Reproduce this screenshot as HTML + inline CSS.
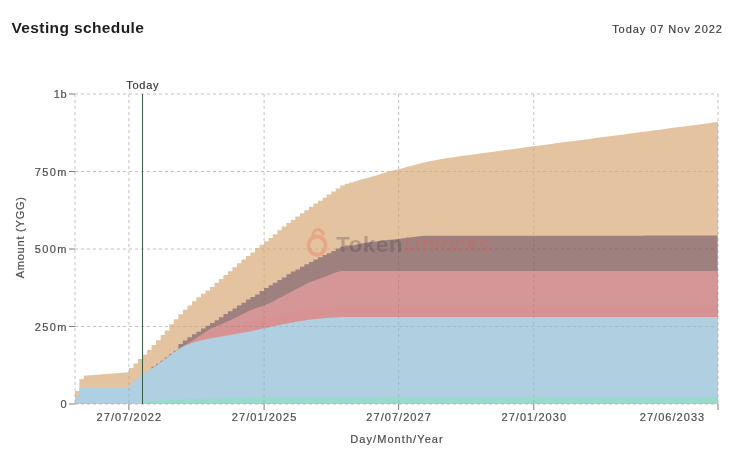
<!DOCTYPE html>
<html><head><meta charset="utf-8"><style>
html,body{margin:0;padding:0;background:#fff;}
body{width:731px;height:458px;overflow:hidden;position:relative;font-family:"Liberation Sans",sans-serif;}
svg{position:absolute;left:0;top:0;will-change:transform;}
</style></head><body>
<svg width="731" height="458" viewBox="0 0 731 458" font-family="Liberation Sans, sans-serif">
<text x="11.5" y="33.1" font-size="15.5" font-weight="bold" fill="#1e1e1e" letter-spacing="0.38">Vesting schedule</text>
<text x="722.8" y="33.1" font-size="11" fill="#3a3a3a" stroke="#3a3a3a" stroke-width="0.15" text-anchor="end" letter-spacing="0.93">Today 07 Nov 2022</text>
<defs><clipPath id="ac"><path d="M75,391 L79.4,391 L79.4,379.3 L83.8,379.3 L83.8,375.7 L128.9,372.3 L128.92,372.3 L128.92,368 L133.49,368 L133.49,368 L133.49,363.4 L138.07,363.4 L138.07,363.4 L138.07,358.9 L142.51,358.9 L142.51,358.9 L142.51,354.7 L147.08,354.7 L147.08,354.7 L147.08,349.9 L151.52,349.9 L151.52,349.9 L151.52,344.9 L156.1,344.9 L156.1,344.9 L156.1,340.2 L160.67,340.2 L160.67,340.2 L160.67,335 L164.81,335 L164.81,335 L164.81,330.4 L169.39,330.4 L169.39,330.4 L169.39,324.3 L173.82,324.3 L173.82,324.3 L173.82,319.2 L178.4,319.2 L178.4,319.2 L178.4,314.3 L182.83,314.3 L182.83,314.3 L182.83,309.7 L187.41,309.7 L187.41,309.7 L187.41,305.5 L191.99,305.5 L191.99,305.5 L191.99,301.3 L196.42,301.3 L196.42,301.3 L196.42,297.2 L201,297.2 L201,297.2 L201,293.7 L205.43,293.7 L205.43,293.7 L205.43,290.5 L210.01,290.5 L210.01,290.5 L210.01,286.9 L214.59,286.9 L214.59,286.9 L214.59,283 L218.87,283 L218.87,283 L218.87,279 L223.45,279 L223.45,279 L223.45,275.1 L227.88,275.1 L227.88,275.1 L227.88,271.2 L232.46,271.2 L232.46,271.2 L232.46,267.2 L236.89,267.2 L236.89,267.2 L236.89,263.3 L241.47,263.3 L241.47,263.3 L241.47,259.6 L246.05,259.6 L246.05,259.6 L246.05,256 L250.48,256 L250.48,256 L250.48,252.5 L255.06,252.5 L255.06,252.5 L255.06,248.1 L259.5,248.1 L259.5,248.1 L259.5,244.7 L264.07,244.7 L264.07,244.7 L264.07,241.2 L268.65,241.2 L268.65,241.2 L268.65,238.1 L272.79,238.1 L272.79,238.1 L272.79,234.2 L277.37,234.2 L277.37,234.2 L277.37,230.3 L281.8,230.3 L281.8,230.3 L281.8,226.4 L286.38,226.4 L286.38,226.4 L286.38,223 L290.81,223 L290.81,223 L290.81,219.9 L295.39,219.9 L295.39,219.9 L295.39,216.4 L299.97,216.4 L299.97,216.4 L299.97,213.3 L304.4,213.3 L304.4,213.3 L304.4,210.3 L308.98,210.3 L308.98,210.3 L308.98,206.8 L313.41,206.8 L313.41,206.8 L313.41,203.5 L317.99,203.5 L317.99,203.5 L317.99,200.8 L322.57,200.8 L322.57,200.8 L322.57,197.7 L326.71,197.7 L326.71,197.7 L326.71,194.6 L331.28,194.6 L331.28,194.6 L331.28,191.6 L335.72,191.6 L335.72,191.6 L335.72,188.5 L340.29,188.5 L340.29,188.5 L340.29,185.5 L344.73,185.5 L344.73,185.5 L344.73,183.7 L349.31,183.7 L349.31,183.7 L349.31,182.4 L353.5,182.4 L353.5,181.76 L355.5,181.21 L357.5,180.66 L359.5,180.11 L361.5,179.56 L363.5,179 L365.5,178.45 L367.5,177.89 L369.5,177.33 L371.5,176.77 L373.5,176.22 L375.5,175.66 L377.5,175.1 L379.5,174.53 L381.5,173.82 L383.5,173.11 L385.5,172.41 L387.5,171.7 L389.5,171.26 L391.5,170.82 L393.5,170.39 L395.5,169.95 L397.5,169.51 L399.5,168.99 L401.5,168.45 L403.5,167.91 L405.5,167.36 L407.5,166.82 L409.5,166.28 L411.5,165.74 L413.5,165.23 L415.5,164.73 L417.5,164.23 L419.5,163.74 L421.5,163.24 L423.5,162.74 L425.5,162.25 L427.5,161.75 L429.5,161.32 L431.5,160.95 L433.5,160.58 L435.5,160.21 L437.5,159.84 L439.5,159.47 L441.5,159.1 L443.5,158.73 L445.5,158.36 L447.5,157.99 L449.5,157.7 L451.5,157.42 L453.5,157.15 L455.5,156.88 L457.5,156.61 L459.5,156.34 L461.5,156.06 L463.5,155.79 L465.5,155.52 L467.5,155.25 L469.5,154.98 L471.5,154.7 L473.5,154.43 L475.5,154.16 L477.5,153.89 L479.5,153.62 L481.5,153.34 L483.5,153.07 L485.5,152.8 L487.5,152.53 L489.5,152.26 L491.5,151.98 L493.5,151.71 L495.5,151.44 L497.5,151.17 L499.5,150.9 L501.5,150.62 L503.5,150.35 L505.5,150.08 L507.5,149.81 L509.5,149.54 L511.5,149.26 L513.5,148.99 L515.5,148.72 L517.5,148.45 L519.5,148.18 L521.5,147.9 L523.5,147.63 L525.5,147.36 L527.5,147.09 L529.5,146.82 L531.5,146.54 L533.5,146.27 L535.5,146.01 L537.5,145.75 L539.5,145.48 L541.5,145.22 L543.5,144.96 L545.5,144.69 L547.5,144.43 L549.5,144.16 L551.5,143.9 L553.5,143.64 L555.5,143.37 L557.5,143.11 L559.5,142.85 L561.5,142.58 L563.5,142.32 L565.5,142.06 L567.5,141.79 L569.5,141.53 L571.5,141.26 L573.5,141 L575.5,140.74 L577.5,140.47 L579.5,140.21 L581.5,139.95 L583.5,139.68 L585.5,139.42 L587.5,139.16 L589.5,138.89 L591.5,138.63 L593.5,138.37 L595.5,138.1 L597.5,137.84 L599.5,137.57 L601.5,137.31 L603.5,137.05 L605.5,136.78 L607.5,136.52 L609.5,136.26 L611.5,135.99 L613.5,135.73 L615.5,135.47 L617.5,135.2 L619.5,134.94 L621.5,134.67 L623.5,134.41 L625.5,134.15 L627.5,133.88 L629.5,133.62 L631.5,133.36 L633.5,133.09 L635.5,132.83 L637.5,132.57 L639.5,132.3 L641.5,132.04 L643.5,131.77 L645.5,131.51 L647.5,131.25 L649.5,130.98 L651.5,130.72 L653.5,130.46 L655.5,130.19 L657.5,129.93 L659.5,129.67 L661.5,129.4 L663.5,129.14 L665.5,128.88 L667.5,128.62 L669.5,128.36 L671.5,128.09 L673.5,127.83 L675.5,127.57 L677.5,127.31 L679.5,127.04 L681.5,126.78 L683.5,126.52 L685.5,126.26 L687.5,126 L689.5,125.73 L691.5,125.47 L693.5,125.21 L695.5,124.95 L697.5,124.69 L699.5,124.42 L701.5,124.16 L703.5,123.9 L705.5,123.64 L707.5,123.38 L709.5,123.11 L711.5,122.85 L713.5,122.59 L715.5,122.33 L717.5,122.07 L718,122 L718,404.0 L75,404.0 Z"/></clipPath></defs>
<g stroke="#c2c2c2" stroke-width="1" stroke-dasharray="3 3" fill="none"><line x1="75" y1="94" x2="718" y2="94"/><line x1="75" y1="171.5" x2="718" y2="171.5"/><line x1="75" y1="249" x2="718" y2="249"/><line x1="75" y1="326.5" x2="718" y2="326.5"/><line x1="75" y1="404" x2="718" y2="404"/><line x1="75" y1="94" x2="75" y2="404"/><line x1="128.9" y1="94" x2="128.9" y2="404"/><line x1="264.1" y1="94" x2="264.1" y2="404"/><line x1="398.6" y1="94" x2="398.6" y2="404"/><line x1="533.8" y1="94" x2="533.8" y2="404"/><line x1="718" y1="94" x2="718" y2="404"/></g>
<path d="M75,391 L79.4,391 L79.4,379.3 L83.8,379.3 L83.8,375.7 L128.9,372.3 L128.92,372.3 L128.92,368 L133.49,368 L133.49,368 L133.49,363.4 L138.07,363.4 L138.07,363.4 L138.07,358.9 L142.51,358.9 L142.51,358.9 L142.51,354.7 L147.08,354.7 L147.08,354.7 L147.08,349.9 L151.52,349.9 L151.52,349.9 L151.52,344.9 L156.1,344.9 L156.1,344.9 L156.1,340.2 L160.67,340.2 L160.67,340.2 L160.67,335 L164.81,335 L164.81,335 L164.81,330.4 L169.39,330.4 L169.39,330.4 L169.39,324.3 L173.82,324.3 L173.82,324.3 L173.82,319.2 L178.4,319.2 L178.4,319.2 L178.4,314.3 L182.83,314.3 L182.83,314.3 L182.83,309.7 L187.41,309.7 L187.41,309.7 L187.41,305.5 L191.99,305.5 L191.99,305.5 L191.99,301.3 L196.42,301.3 L196.42,301.3 L196.42,297.2 L201,297.2 L201,297.2 L201,293.7 L205.43,293.7 L205.43,293.7 L205.43,290.5 L210.01,290.5 L210.01,290.5 L210.01,286.9 L214.59,286.9 L214.59,286.9 L214.59,283 L218.87,283 L218.87,283 L218.87,279 L223.45,279 L223.45,279 L223.45,275.1 L227.88,275.1 L227.88,275.1 L227.88,271.2 L232.46,271.2 L232.46,271.2 L232.46,267.2 L236.89,267.2 L236.89,267.2 L236.89,263.3 L241.47,263.3 L241.47,263.3 L241.47,259.6 L246.05,259.6 L246.05,259.6 L246.05,256 L250.48,256 L250.48,256 L250.48,252.5 L255.06,252.5 L255.06,252.5 L255.06,248.1 L259.5,248.1 L259.5,248.1 L259.5,244.7 L264.07,244.7 L264.07,244.7 L264.07,241.2 L268.65,241.2 L268.65,241.2 L268.65,238.1 L272.79,238.1 L272.79,238.1 L272.79,234.2 L277.37,234.2 L277.37,234.2 L277.37,230.3 L281.8,230.3 L281.8,230.3 L281.8,226.4 L286.38,226.4 L286.38,226.4 L286.38,223 L290.81,223 L290.81,223 L290.81,219.9 L295.39,219.9 L295.39,219.9 L295.39,216.4 L299.97,216.4 L299.97,216.4 L299.97,213.3 L304.4,213.3 L304.4,213.3 L304.4,210.3 L308.98,210.3 L308.98,210.3 L308.98,206.8 L313.41,206.8 L313.41,206.8 L313.41,203.5 L317.99,203.5 L317.99,203.5 L317.99,200.8 L322.57,200.8 L322.57,200.8 L322.57,197.7 L326.71,197.7 L326.71,197.7 L326.71,194.6 L331.28,194.6 L331.28,194.6 L331.28,191.6 L335.72,191.6 L335.72,191.6 L335.72,188.5 L340.29,188.5 L340.29,188.5 L340.29,185.5 L344.73,185.5 L344.73,185.5 L344.73,183.7 L349.31,183.7 L349.31,183.7 L349.31,182.4 L353.5,182.4 L353.5,181.76 L355.5,181.21 L357.5,180.66 L359.5,180.11 L361.5,179.56 L363.5,179 L365.5,178.45 L367.5,177.89 L369.5,177.33 L371.5,176.77 L373.5,176.22 L375.5,175.66 L377.5,175.1 L379.5,174.53 L381.5,173.82 L383.5,173.11 L385.5,172.41 L387.5,171.7 L389.5,171.26 L391.5,170.82 L393.5,170.39 L395.5,169.95 L397.5,169.51 L399.5,168.99 L401.5,168.45 L403.5,167.91 L405.5,167.36 L407.5,166.82 L409.5,166.28 L411.5,165.74 L413.5,165.23 L415.5,164.73 L417.5,164.23 L419.5,163.74 L421.5,163.24 L423.5,162.74 L425.5,162.25 L427.5,161.75 L429.5,161.32 L431.5,160.95 L433.5,160.58 L435.5,160.21 L437.5,159.84 L439.5,159.47 L441.5,159.1 L443.5,158.73 L445.5,158.36 L447.5,157.99 L449.5,157.7 L451.5,157.42 L453.5,157.15 L455.5,156.88 L457.5,156.61 L459.5,156.34 L461.5,156.06 L463.5,155.79 L465.5,155.52 L467.5,155.25 L469.5,154.98 L471.5,154.7 L473.5,154.43 L475.5,154.16 L477.5,153.89 L479.5,153.62 L481.5,153.34 L483.5,153.07 L485.5,152.8 L487.5,152.53 L489.5,152.26 L491.5,151.98 L493.5,151.71 L495.5,151.44 L497.5,151.17 L499.5,150.9 L501.5,150.62 L503.5,150.35 L505.5,150.08 L507.5,149.81 L509.5,149.54 L511.5,149.26 L513.5,148.99 L515.5,148.72 L517.5,148.45 L519.5,148.18 L521.5,147.9 L523.5,147.63 L525.5,147.36 L527.5,147.09 L529.5,146.82 L531.5,146.54 L533.5,146.27 L535.5,146.01 L537.5,145.75 L539.5,145.48 L541.5,145.22 L543.5,144.96 L545.5,144.69 L547.5,144.43 L549.5,144.16 L551.5,143.9 L553.5,143.64 L555.5,143.37 L557.5,143.11 L559.5,142.85 L561.5,142.58 L563.5,142.32 L565.5,142.06 L567.5,141.79 L569.5,141.53 L571.5,141.26 L573.5,141 L575.5,140.74 L577.5,140.47 L579.5,140.21 L581.5,139.95 L583.5,139.68 L585.5,139.42 L587.5,139.16 L589.5,138.89 L591.5,138.63 L593.5,138.37 L595.5,138.1 L597.5,137.84 L599.5,137.57 L601.5,137.31 L603.5,137.05 L605.5,136.78 L607.5,136.52 L609.5,136.26 L611.5,135.99 L613.5,135.73 L615.5,135.47 L617.5,135.2 L619.5,134.94 L621.5,134.67 L623.5,134.41 L625.5,134.15 L627.5,133.88 L629.5,133.62 L631.5,133.36 L633.5,133.09 L635.5,132.83 L637.5,132.57 L639.5,132.3 L641.5,132.04 L643.5,131.77 L645.5,131.51 L647.5,131.25 L649.5,130.98 L651.5,130.72 L653.5,130.46 L655.5,130.19 L657.5,129.93 L659.5,129.67 L661.5,129.4 L663.5,129.14 L665.5,128.88 L667.5,128.62 L669.5,128.36 L671.5,128.09 L673.5,127.83 L675.5,127.57 L677.5,127.31 L679.5,127.04 L681.5,126.78 L683.5,126.52 L685.5,126.26 L687.5,126 L689.5,125.73 L691.5,125.47 L693.5,125.21 L695.5,124.95 L697.5,124.69 L699.5,124.42 L701.5,124.16 L703.5,123.9 L705.5,123.64 L707.5,123.38 L709.5,123.11 L711.5,122.85 L713.5,122.59 L715.5,122.33 L717.5,122.07 L718,122 L718,404.0 L75,404.0 Z" fill="#e4c3a0"/>
<path d="M151.52,368.66 L151.52,366.86 L152.43,366.86 L153.35,366.86 L154.26,366.81 L155.18,366.19 L156.1,365.56 L156.1,365.56 L156.1,363.76 L157.01,363.76 L157.93,363.76 L158.84,363.69 L159.76,363.06 L160.67,362.44 L160.67,362.44 L160.67,360.64 L161.5,360.64 L162.33,360.64 L163.16,360.64 L163.98,360 L164.81,359.37 L164.81,359.37 L164.81,357.57 L165.73,357.57 L166.64,357.57 L167.56,357.26 L168.47,356.55 L169.39,355.85 L169.39,355.85 L169.39,354.05 L170.28,354.05 L171.16,354.05 L172.05,353.82 L172.93,353.2 L173.82,352.57 L173.82,352.57 L173.82,350.77 L174.74,350.77 L175.65,350.77 L176.57,350.63 L177.48,349.98 L178.4,349.33 L178.4,349.33 L178.4,343.9 L179.29,343.9 L180.17,343.9 L181.06,343.9 L181.95,343.9 L182.83,343.9 L182.83,343.9 L182.83,340.4 L183.75,340.4 L184.66,340.4 L185.58,340.4 L186.49,340.4 L187.41,340.4 L187.41,340.4 L187.41,337.3 L188.33,337.3 L189.24,337.3 L190.16,337.3 L191.07,337.3 L191.99,337.3 L191.99,337.3 L191.99,334.3 L192.88,334.3 L193.76,334.3 L194.65,334.3 L195.53,334.3 L196.42,334.3 L196.42,334.3 L196.42,331.7 L197.34,331.7 L198.25,331.7 L199.17,331.7 L200.08,331.7 L201,331.7 L201,331.7 L201,328.6 L201.89,328.6 L202.77,328.6 L203.66,328.6 L204.55,328.6 L205.43,328.6 L205.43,328.6 L205.43,325.8 L206.35,325.8 L207.26,325.8 L208.18,325.8 L209.09,325.8 L210.01,325.8 L210.01,325.8 L210.01,322.9 L210.93,322.9 L211.84,322.9 L212.76,322.9 L213.67,322.9 L214.59,322.9 L214.59,322.9 L214.59,320.2 L215.45,320.2 L216.3,320.2 L217.16,320.2 L218.02,320.2 L218.87,320.2 L218.87,320.2 L218.87,317.2 L219.79,317.2 L220.71,317.2 L221.62,317.2 L222.54,317.2 L223.45,317.2 L223.45,317.2 L223.45,314.1 L224.34,314.1 L225.23,314.1 L226.11,314.1 L227,314.1 L227.88,314.1 L227.88,314.1 L227.88,311.3 L228.8,311.3 L229.72,311.3 L230.63,311.3 L231.55,311.3 L232.46,311.3 L232.46,311.3 L232.46,308.4 L233.35,308.4 L234.24,308.4 L235.12,308.4 L236.01,308.4 L236.89,308.4 L236.89,308.4 L236.89,305.6 L237.81,305.6 L238.73,305.6 L239.64,305.6 L240.56,305.6 L241.47,305.6 L241.47,305.6 L241.47,302.7 L242.39,302.7 L243.31,302.7 L244.22,302.7 L245.14,302.7 L246.05,302.7 L246.05,302.7 L246.05,299.6 L246.94,299.6 L247.83,299.6 L248.71,299.6 L249.6,299.6 L250.48,299.6 L250.48,299.6 L250.48,297.1 L251.4,297.1 L252.32,297.1 L253.23,297.1 L254.15,297.1 L255.06,297.1 L255.06,297.1 L255.06,294.5 L255.95,294.5 L256.84,294.5 L257.72,294.5 L258.61,294.5 L259.5,294.5 L259.5,294.5 L259.5,291 L260.41,291 L261.33,291 L262.24,291 L263.16,291 L264.07,291 L264.07,291 L264.07,287.9 L264.99,287.9 L265.91,287.9 L266.82,287.9 L267.74,287.9 L268.65,287.9 L268.65,287.9 L268.65,285.3 L269.48,285.3 L270.31,285.3 L271.13,285.3 L271.96,285.3 L272.79,285.3 L272.79,285.3 L272.79,282.7 L273.71,282.7 L274.62,282.7 L275.54,282.7 L276.45,282.7 L277.37,282.7 L277.37,282.7 L277.37,280 L278.25,280 L279.14,280 L280.03,280 L280.91,280 L281.8,280 L281.8,280 L281.8,277.4 L282.72,277.4 L283.63,277.4 L284.55,277.4 L285.46,277.4 L286.38,277.4 L286.38,277.4 L286.38,274.3 L287.27,274.3 L288.15,274.3 L289.04,274.3 L289.92,274.3 L290.81,274.3 L290.81,274.3 L290.81,271.6 L291.73,271.6 L292.64,271.6 L293.56,271.6 L294.47,271.6 L295.39,271.6 L295.39,271.6 L295.39,269.5 L296.31,269.5 L297.22,269.5 L298.14,269.5 L299.05,269.5 L299.97,269.5 L299.97,269.5 L299.97,266.8 L300.86,266.8 L301.74,266.8 L302.63,266.8 L303.51,266.8 L304.4,266.8 L304.4,266.8 L304.4,264.2 L305.32,264.2 L306.23,264.2 L307.15,264.2 L308.06,264.2 L308.98,264.2 L308.98,264.2 L308.98,262 L309.87,262 L310.75,262 L311.64,262 L312.52,262 L313.41,262 L313.41,262 L313.41,259.4 L314.33,259.4 L315.24,259.4 L316.16,259.4 L317.07,259.4 L317.99,259.4 L317.99,259.4 L317.99,257.2 L318.91,257.2 L319.82,257.2 L320.74,257.2 L321.65,257.2 L322.57,257.2 L322.57,257.2 L322.57,255 L323.4,255 L324.22,255 L325.05,255 L325.88,255 L326.71,255 L326.71,255 L326.71,253.3 L327.62,253.3 L328.54,253.3 L329.45,253.3 L330.37,253.3 L331.28,253.3 L331.28,253.3 L331.28,251.1 L332.17,251.1 L333.06,251.1 L333.94,251.1 L334.83,251.1 L335.72,251.1 L335.72,251.1 L335.72,248.5 L336.63,248.5 L337.55,248.5 L338.46,248.5 L339.38,248.5 L340.29,248.5 L340.29,248.5 L340.29,246.8 L341.18,246.8 L342.07,246.8 L342.95,246.8 L343.84,246.8 L344.73,246.8 L344.73,246.8 L344.73,245.5 L345.64,245.5 L346.56,245.5 L347.47,245.5 L348.39,245.5 L349.31,245.5 L349.31,245.5 L349.31,245.62 L350.14,245.62 L350.98,245.62 L351.82,245.62 L352.66,245.62 L353.5,245.62 L353.5,245.18 L355.5,244.77 L357.5,244.35 L359.5,243.93 L361.5,243.51 L363.5,243.13 L365.5,242.85 L367.5,242.57 L369.5,242.3 L371.5,242.02 L373.5,241.74 L375.5,241.46 L377.5,241.19 L379.5,240.91 L381.5,240.65 L383.5,240.44 L385.5,240.24 L387.5,240.04 L389.5,239.83 L391.5,239.63 L393.5,239.42 L395.5,239.22 L397.5,238.97 L399.5,238.71 L401.5,238.46 L403.5,238.2 L405.5,237.94 L407.5,237.69 L409.5,237.43 L411.5,237.17 L413.5,236.92 L415.5,236.66 L417.5,236.41 L419.5,236.15 L421.5,235.89 L423.5,235.7 L425.5,235.7 L427.5,235.7 L429.5,235.7 L431.5,235.7 L433.5,235.7 L435.5,235.7 L437.5,235.7 L439.5,235.69 L441.5,235.69 L443.5,235.69 L445.5,235.69 L447.5,235.69 L449.5,235.69 L451.5,235.69 L453.5,235.69 L455.5,235.69 L457.5,235.69 L459.5,235.69 L461.5,235.69 L463.5,235.69 L465.5,235.69 L467.5,235.68 L469.5,235.68 L471.5,235.68 L473.5,235.68 L475.5,235.68 L477.5,235.68 L479.5,235.68 L481.5,235.68 L483.5,235.68 L485.5,235.68 L487.5,235.68 L489.5,235.68 L491.5,235.68 L493.5,235.68 L495.5,235.68 L497.5,235.67 L499.5,235.67 L501.5,235.67 L503.5,235.67 L505.5,235.67 L507.5,235.67 L509.5,235.67 L511.5,235.67 L513.5,235.67 L515.5,235.67 L517.5,235.67 L519.5,235.67 L521.5,235.67 L523.5,235.67 L525.5,235.67 L527.5,235.66 L529.5,235.66 L531.5,235.66 L533.5,235.66 L535.5,235.66 L537.5,235.66 L539.5,235.66 L541.5,235.66 L543.5,235.66 L545.5,235.66 L547.5,235.66 L549.5,235.66 L551.5,235.66 L553.5,235.66 L555.5,235.66 L557.5,235.65 L559.5,235.65 L561.5,235.65 L563.5,235.65 L565.5,235.65 L567.5,235.65 L569.5,235.65 L571.5,235.65 L573.5,235.65 L575.5,235.65 L577.5,235.65 L579.5,235.65 L581.5,235.65 L583.5,235.65 L585.5,235.64 L587.5,235.64 L589.5,235.64 L591.5,235.64 L593.5,235.64 L595.5,235.64 L597.5,235.64 L599.5,235.64 L601.5,235.64 L603.5,235.64 L605.5,235.64 L607.5,235.64 L609.5,235.64 L611.5,235.64 L613.5,235.64 L615.5,235.63 L617.5,235.63 L619.5,235.63 L621.5,235.63 L623.5,235.63 L625.5,235.63 L627.5,235.63 L629.5,235.63 L631.5,235.63 L633.5,235.63 L635.5,235.63 L637.5,235.63 L639.5,235.63 L641.5,235.63 L643.5,235.63 L645.5,235.62 L647.5,235.62 L649.5,235.62 L651.5,235.62 L653.5,235.62 L655.5,235.62 L657.5,235.62 L659.5,235.62 L661.5,235.62 L663.5,235.62 L665.5,235.62 L667.5,235.62 L669.5,235.62 L671.5,235.62 L673.5,235.62 L675.5,235.61 L677.5,235.61 L679.5,235.61 L681.5,235.61 L683.5,235.61 L685.5,235.61 L687.5,235.61 L689.5,235.61 L691.5,235.61 L693.5,235.61 L695.5,235.61 L697.5,235.61 L699.5,235.61 L701.5,235.61 L703.5,235.6 L705.5,235.6 L707.5,235.6 L709.5,235.6 L711.5,235.6 L713.5,235.6 L715.5,235.6 L717.5,235.6 L717.5,404.0 L151.52,404.0 Z" fill="#9e807e"/>
<path d="M183,346.3 L184,345.72 L185,345.14 L186,344.56 L187,343.97 L188,343.39 L189,342.81 L190,342.23 L191,341.65 L192,341.07 L193,340.47 L194,339.79 L195,339.12 L196,338.44 L197,337.77 L198,337.09 L199,336.42 L200,335.74 L201,335.07 L202,334.4 L203,333.72 L204,333.05 L205,332.37 L206,331.7 L207,331.02 L208,330.35 L209,329.67 L210,329 L211,328.57 L212,328.15 L213,327.73 L214,327.3 L215,326.88 L216,326.45 L217,326.02 L218,325.6 L219,325.18 L220,324.75 L221,324.32 L222,323.9 L223,323.48 L224,323.05 L225,322.62 L226,322.2 L227,321.77 L228,321.35 L229,320.93 L230,320.5 L231,320 L232,319.5 L233,319 L234,318.5 L235,318 L236,317.5 L237,317 L238,316.5 L239,316 L240,315.5 L241,315 L242,314.5 L243,314 L244,313.5 L245,313 L246,312.5 L247,312 L248,311.5 L249,311 L250,310.5 L251,310.12 L252,309.75 L253,309.38 L254,309 L255,308.62 L256,308.25 L257,307.88 L258,307.5 L259,307.12 L260,306.75 L261,306.38 L262,306 L263,305.62 L264,305.25 L265,304.88 L266,304.5 L267,304.12 L268,303.75 L269,303.38 L270,303 L271,302.48 L272,301.95 L273,301.43 L274,300.9 L275,300.38 L276,299.85 L277,299.32 L278,298.8 L279,298.27 L280,297.75 L281,297.23 L282,296.7 L283,296.18 L284,295.65 L285,295.12 L286,294.6 L287,294.07 L288,293.55 L289,293.02 L290,292.5 L291,291.97 L292,291.45 L293,290.92 L294,290.39 L295,289.87 L296,289.34 L297,288.82 L298,288.29 L299,287.76 L300,287.24 L301,286.71 L302,286.18 L303,285.66 L304,285.13 L305,284.61 L306,284.08 L307,283.55 L308,283.03 L309,282.5 L310,282.14 L311,281.78 L312,281.42 L313,281.05 L314,280.69 L315,280.33 L316,279.97 L317,279.61 L318,279.25 L319,278.89 L320,278.52 L321,278.16 L322,277.8 L323,277.44 L324,277.08 L325,276.72 L326,276.34 L327,275.93 L328,275.52 L329,275.11 L330,274.7 L331,274.3 L332,273.89 L333,273.48 L334,273.07 L335,272.66 L336,272.34 L337,272.07 L338,271.8 L339,271.54 L340,271.27 L341,271 L342,271 L343,271 L344,271 L345,271 L346,271 L347,271 L348,271 L349,271 L350,271 L351,271 L352,271 L353,271 L354,271 L355,271 L356,271 L357,271 L358,271 L359,271 L360,271 L361,271 L362,271 L363,271 L364,271 L365,271 L366,271 L367,271 L368,271 L369,271 L370,271 L371,271 L372,271 L373,271 L374,271 L375,271 L376,271 L377,271 L378,271 L379,271 L380,271 L381,271 L382,271 L383,271 L384,271 L385,271 L386,271 L387,271 L388,271 L389,271 L390,271 L391,271 L392,271 L393,271 L394,271 L395,271 L396,271 L397,271 L398,271 L399,271 L400,271 L401,271 L402,271 L403,271 L404,271 L405,271 L406,271 L407,271 L408,271 L409,271 L410,271 L411,271 L412,271 L413,271 L414,271 L415,271 L416,271 L417,271 L418,271 L419,271 L420,271 L421,271 L422,271 L423,271 L424,271 L425,271 L426,271 L427,271 L428,271 L429,271 L430,271 L431,271 L432,271 L433,271 L434,271 L435,271 L436,271 L437,271 L438,271 L439,271 L440,271 L441,271 L442,271 L443,271 L444,271 L445,271 L446,271 L447,271 L448,271 L449,271 L450,271 L451,271 L452,271 L453,271 L454,271 L455,271 L456,271 L457,271 L458,271 L459,271 L460,271 L461,271 L462,271 L463,271 L464,271 L465,271 L466,271 L467,271 L468,271 L469,271 L470,271 L471,271 L472,271 L473,271 L474,271 L475,271 L476,271 L477,271 L478,271 L479,271 L480,271 L481,271 L482,271 L483,271 L484,271 L485,271 L486,271 L487,271 L488,271 L489,271 L490,271 L491,271 L492,271 L493,271 L494,271 L495,271 L496,271 L497,271 L498,271 L499,271 L500,271 L501,271 L502,271 L503,271 L504,271 L505,271 L506,271 L507,271 L508,271 L509,271 L510,271 L511,271 L512,271 L513,271 L514,271 L515,271 L516,271 L517,271 L518,271 L519,271 L520,271 L521,271 L522,271 L523,271 L524,271 L525,271 L526,271 L527,271 L528,271 L529,271 L530,271 L531,271 L532,271 L533,271 L534,271 L535,271 L536,271 L537,271 L538,271 L539,271 L540,271 L541,271 L542,271 L543,271 L544,271 L545,271 L546,271 L547,271 L548,271 L549,271 L550,271 L551,271 L552,271 L553,271 L554,271 L555,271 L556,271 L557,271 L558,271 L559,271 L560,271 L561,271 L562,271 L563,271 L564,271 L565,271 L566,271 L567,271 L568,271 L569,271 L570,271 L571,271 L572,271 L573,271 L574,271 L575,271 L576,271 L577,271 L578,271 L579,271 L580,271 L581,271 L582,271 L583,271 L584,271 L585,271 L586,271 L587,271 L588,271 L589,271 L590,271 L591,271 L592,271 L593,271 L594,271 L595,271 L596,271 L597,271 L598,271 L599,271 L600,271 L601,271 L602,271 L603,271 L604,271 L605,271 L606,271 L607,271 L608,271 L609,271 L610,271 L611,271 L612,271 L613,271 L614,271 L615,271 L616,271 L617,271 L618,271 L619,271 L620,271 L621,271 L622,271 L623,271 L624,271 L625,271 L626,271 L627,271 L628,271 L629,271 L630,271 L631,271 L632,271 L633,271 L634,271 L635,271 L636,271 L637,271 L638,271 L639,271 L640,271 L641,271 L642,271 L643,271 L644,271 L645,271 L646,271 L647,271 L648,271 L649,271 L650,271 L651,271 L652,271 L653,271 L654,271 L655,271 L656,271 L657,271 L658,271 L659,271 L660,271 L661,271 L662,271 L663,271 L664,271 L665,271 L666,271 L667,271 L668,271 L669,271 L670,271 L671,271 L672,271 L673,271 L674,271 L675,271 L676,271 L677,271 L678,271 L679,271 L680,271 L681,271 L682,271 L683,271 L684,271 L685,271 L686,271 L687,271 L688,271 L689,271 L690,271 L691,271 L692,271 L693,271 L694,271 L695,271 L696,271 L697,271 L698,271 L699,271 L700,271 L701,271 L702,271 L703,271 L704,271 L705,271 L706,271 L707,271 L708,271 L709,271 L710,271 L711,271 L712,271 L713,271 L714,271 L715,271 L716,271 L717,271 L718,271 L718,404.0 L183,404.0 Z" fill="#d49696"/>
<path d="M183,346.49 L184,345.81 L185,345.14 L186,344.56 L187,343.97 L188,343.39 L189,342.81 L190,342.23 L191,341.65 L192,341.07 L193,340.47 L194,339.79 L195,339.12 L196,338.44 L197,337.77 L198,337.09 L199,336.42 L200,335.76 L201,335.34 L202,334.93 L203,334.52 L204,334.11 L205,333.72 L206,333.36 L207,332.99 L208,332.63 L209,332.26 L210,331.9 L211,331.58 L212,331.26 L213,330.94 L214,330.62 L215,330.3 L216,329.98 L217,329.66 L218,329.34 L219,329.02 L220,328.7 L221,328.38 L222,328.06 L223,327.74 L224,327.42 L225,327.1 L226,326.78 L227,326.46 L228,326.14 L229,325.82 L230,325.5 L231,325.31 L232,325.12 L233,324.93 L234,324.74 L235,324.55 L236,324.36 L237,324.17 L238,323.99 L239,323.8 L240,323.61 L241,323.42 L242,323.23 L243,323.04 L244,322.85 L245,322.66 L246,322.47 L247,322.28 L248,322.09 L249,321.9 L250,321.71 L251,321.47 L252,321.24 L253,321 L254,320.76 L255,320.52 L256,320.28 L257,320.04 L258,319.8 L259,319.56 L260,319.32 L261,319.08 L262,318.84 L263,318.6 L264,318.36 L265,318.12 L266,317.89 L267,317.65 L268,317.41 L269,317.17 L270,316.93 L271,316.7 L272,316.48 L273,316.26 L274,316.03 L275,315.81 L276,315.58 L277,315.36 L278,315.13 L279,314.91 L280,314.69 L281,314.46 L282,314.24 L283,314.01 L284,313.79 L285,313.56 L286,313.34 L287,313.12 L288,312.89 L289,312.67 L290,312.44 L291,312.27 L292,312.09 L293,311.92 L294,311.75 L295,311.57 L296,311.4 L297,311.22 L298,311.05 L299,310.87 L300,310.7 L301,310.52 L302,310.34 L303,310.16 L304,309.98 L305,309.8 L306,309.62 L307,309.44 L308,309.26 L309,309.08 L310,308.9 L311,308.78 L312,308.66 L313,308.54 L314,308.42 L315,308.3 L316,308.18 L317,308.06 L318,307.94 L319,307.82 L320,307.7 L321,307.58 L322,307.46 L323,307.34 L324,307.22 L325,307.1 L326,306.98 L327,306.86 L328,306.74 L329,306.67 L330,306.59 L331,306.52 L332,306.45 L333,306.37 L334,306.3 L335,306.23 L336,306.15 L337,306.08 L338,306.01 L339,305.93 L340,305.86 L341,305.81 L342,305.75 L343,305.7 L344,305.7 L345,305.7 L346,305.7 L347,305.7 L348,305.7 L349,305.7 L350,305.7 L351,305.7 L352,305.7 L353,305.7 L354,305.7 L355,305.7 L356,305.7 L357,305.7 L358,305.7 L359,305.7 L360,305.7 L361,305.7 L362,305.7 L363,305.7 L364,305.7 L365,305.7 L366,305.7 L367,305.7 L368,305.7 L369,305.7 L370,305.7 L371,305.7 L372,305.7 L373,305.7 L374,305.7 L375,305.7 L376,305.7 L377,305.7 L378,305.7 L379,305.7 L380,305.7 L381,305.7 L382,305.7 L383,305.7 L384,305.7 L385,305.7 L386,305.7 L387,305.7 L388,305.7 L389,305.7 L390,305.7 L391,305.7 L392,305.7 L393,305.7 L394,305.7 L395,305.7 L396,305.7 L397,305.7 L398,305.7 L399,305.7 L400,305.7 L401,305.7 L402,305.7 L403,305.7 L404,305.7 L405,305.7 L406,305.7 L407,305.7 L408,305.7 L409,305.7 L410,305.7 L411,305.7 L412,305.7 L413,305.7 L414,305.7 L415,305.7 L416,305.7 L417,305.7 L418,305.7 L419,305.7 L420,305.7 L421,305.7 L422,305.7 L423,305.7 L424,305.7 L425,305.7 L426,305.7 L427,305.7 L428,305.7 L429,305.7 L430,305.7 L431,305.7 L432,305.7 L433,305.7 L434,305.7 L435,305.7 L436,305.7 L437,305.7 L438,305.7 L439,305.7 L440,305.7 L441,305.7 L442,305.7 L443,305.7 L444,305.7 L445,305.7 L446,305.7 L447,305.7 L448,305.7 L449,305.7 L450,305.7 L451,305.7 L452,305.7 L453,305.7 L454,305.7 L455,305.7 L456,305.7 L457,305.7 L458,305.7 L459,305.7 L460,305.7 L461,305.7 L462,305.7 L463,305.7 L464,305.7 L465,305.7 L466,305.7 L467,305.7 L468,305.7 L469,305.7 L470,305.7 L471,305.7 L472,305.7 L473,305.7 L474,305.7 L475,305.7 L476,305.7 L477,305.7 L478,305.7 L479,305.7 L480,305.7 L481,305.7 L482,305.7 L483,305.7 L484,305.7 L485,305.7 L486,305.7 L487,305.7 L488,305.7 L489,305.7 L490,305.7 L491,305.7 L492,305.7 L493,305.7 L494,305.7 L495,305.7 L496,305.7 L497,305.7 L498,305.7 L499,305.7 L500,305.7 L501,305.7 L502,305.7 L503,305.7 L504,305.7 L505,305.7 L506,305.7 L507,305.7 L508,305.7 L509,305.7 L510,305.7 L511,305.7 L512,305.7 L513,305.7 L514,305.7 L515,305.7 L516,305.7 L517,305.7 L518,305.7 L519,305.7 L520,305.7 L521,305.7 L522,305.7 L523,305.7 L524,305.7 L525,305.7 L526,305.7 L527,305.7 L528,305.7 L529,305.7 L530,305.7 L531,305.7 L532,305.7 L533,305.7 L534,305.7 L535,305.7 L536,305.7 L537,305.7 L538,305.7 L539,305.7 L540,305.7 L541,305.7 L542,305.7 L543,305.7 L544,305.7 L545,305.7 L546,305.7 L547,305.7 L548,305.7 L549,305.7 L550,305.7 L551,305.7 L552,305.7 L553,305.7 L554,305.7 L555,305.7 L556,305.7 L557,305.7 L558,305.7 L559,305.7 L560,305.7 L561,305.7 L562,305.7 L563,305.7 L564,305.7 L565,305.7 L566,305.7 L567,305.7 L568,305.7 L569,305.7 L570,305.7 L571,305.7 L572,305.7 L573,305.7 L574,305.7 L575,305.7 L576,305.7 L577,305.7 L578,305.7 L579,305.7 L580,305.7 L581,305.7 L582,305.7 L583,305.7 L584,305.7 L585,305.7 L586,305.7 L587,305.7 L588,305.7 L589,305.7 L590,305.7 L591,305.7 L592,305.7 L593,305.7 L594,305.7 L595,305.7 L596,305.7 L597,305.7 L598,305.7 L599,305.7 L600,305.7 L601,305.7 L602,305.7 L603,305.7 L604,305.7 L605,305.7 L606,305.7 L607,305.7 L608,305.7 L609,305.7 L610,305.7 L611,305.7 L612,305.7 L613,305.7 L614,305.7 L615,305.7 L616,305.7 L617,305.7 L618,305.7 L619,305.7 L620,305.7 L621,305.7 L622,305.7 L623,305.7 L624,305.7 L625,305.7 L626,305.7 L627,305.7 L628,305.7 L629,305.7 L630,305.7 L631,305.7 L632,305.7 L633,305.7 L634,305.7 L635,305.7 L636,305.7 L637,305.7 L638,305.7 L639,305.7 L640,305.7 L641,305.7 L642,305.7 L643,305.7 L644,305.7 L645,305.7 L646,305.7 L647,305.7 L648,305.7 L649,305.7 L650,305.7 L651,305.7 L652,305.7 L653,305.7 L654,305.7 L655,305.7 L656,305.7 L657,305.7 L658,305.7 L659,305.7 L660,305.7 L661,305.7 L662,305.7 L663,305.7 L664,305.7 L665,305.7 L666,305.7 L667,305.7 L668,305.7 L669,305.7 L670,305.7 L671,305.7 L672,305.7 L673,305.7 L674,305.7 L675,305.7 L676,305.7 L677,305.7 L678,305.7 L679,305.7 L680,305.7 L681,305.7 L682,305.7 L683,305.7 L684,305.7 L685,305.7 L686,305.7 L687,305.7 L688,305.7 L689,305.7 L690,305.7 L691,305.7 L692,305.7 L693,305.7 L694,305.7 L695,305.7 L696,305.7 L697,305.7 L698,305.7 L699,305.7 L700,305.7 L701,305.7 L702,305.7 L703,305.7 L704,305.7 L705,305.7 L706,305.7 L707,305.7 L708,305.7 L709,305.7 L710,305.7 L711,305.7 L712,305.7 L713,305.7 L714,305.7 L715,305.7 L716,305.7 L717,305.7 L718,305.7 L718,404.0 L183,404.0 Z" fill="#d79294"/>
<path d="M75,396.4 L79.4,396.4 L79.4,387.7 L128.9,387.7 L128.9,387.7 L129.9,385.41 L130.9,383.57 L131.9,382.8 L132.9,382.02 L133.9,381.25 L134.9,380.48 L135.9,379.71 L136.9,378.94 L137.9,378.16 L138.9,377.39 L139.9,376.62 L140.9,375.85 L141.9,375.08 L142.9,374.4 L143.9,373.73 L144.9,373.07 L145.9,372.4 L146.9,371.73 L147.9,371.07 L148.9,370.4 L149.9,369.73 L150.9,369.07 L151.9,368.4 L152.9,367.73 L153.9,367.06 L154.9,366.38 L155.9,365.69 L156.9,365.01 L157.9,364.33 L158.9,363.65 L159.9,362.96 L160.9,362.28 L161.9,361.6 L162.9,360.83 L163.9,360.06 L164.9,359.3 L165.9,358.53 L166.9,357.76 L167.9,356.99 L168.9,356.23 L169.9,355.46 L170.9,354.69 L171.9,353.93 L172.9,353.22 L173.9,352.52 L174.9,351.81 L175.9,351.1 L176.9,350.39 L177.9,349.69 L178.9,348.98 L179.9,348.27 L180.9,347.57 L181.9,346.92 L182.9,346.53 L183.9,346.14 L184.9,345.75 L185.9,345.36 L186.9,344.98 L187.9,344.59 L188.9,344.2 L189.9,343.81 L190.9,343.42 L191.9,343.03 L192.9,342.64 L193.9,342.36 L194.9,342.1 L195.9,341.84 L196.9,341.57 L197.9,341.31 L198.9,341.05 L199.9,340.78 L200.9,340.52 L201.9,340.26 L202.9,339.99 L203.9,339.73 L204.9,339.49 L205.9,339.28 L206.9,339.06 L207.9,338.85 L208.9,338.64 L209.9,338.42 L210.9,338.25 L211.9,338.08 L212.9,337.91 L213.9,337.74 L214.9,337.57 L215.9,337.4 L216.9,337.23 L217.9,337.06 L218.9,336.89 L219.9,336.72 L220.9,336.55 L221.9,336.38 L222.9,336.21 L223.9,336.04 L224.9,335.87 L225.9,335.7 L226.9,335.53 L227.9,335.36 L228.9,335.19 L229.9,335.02 L230.9,334.84 L231.9,334.67 L232.9,334.49 L233.9,334.32 L234.9,334.14 L235.9,333.97 L236.9,333.79 L237.9,333.62 L238.9,333.44 L239.9,333.27 L240.9,333.09 L241.9,332.92 L242.9,332.74 L243.9,332.57 L244.9,332.39 L245.9,332.22 L246.9,332.04 L247.9,331.87 L248.9,331.69 L249.9,331.52 L250.9,331.3 L251.9,331.07 L252.9,330.85 L253.9,330.62 L254.9,330.4 L255.9,330.17 L256.9,329.95 L257.9,329.72 L258.9,329.5 L259.9,329.27 L260.9,329.05 L261.9,328.82 L262.9,328.6 L263.9,328.37 L264.9,328.15 L265.9,327.92 L266.9,327.7 L267.9,327.47 L268.9,327.25 L269.9,327.02 L270.9,326.81 L271.9,326.6 L272.9,326.39 L273.9,326.18 L274.9,325.97 L275.9,325.76 L276.9,325.55 L277.9,325.34 L278.9,325.13 L279.9,324.92 L280.9,324.71 L281.9,324.5 L282.9,324.29 L283.9,324.08 L284.9,323.87 L285.9,323.66 L286.9,323.45 L287.9,323.24 L288.9,323.03 L289.9,322.82 L290.9,322.66 L291.9,322.5 L292.9,322.34 L293.9,322.18 L294.9,322.02 L295.9,321.86 L296.9,321.7 L297.9,321.54 L298.9,321.38 L299.9,321.22 L300.9,321.06 L301.9,320.9 L302.9,320.74 L303.9,320.58 L304.9,320.42 L305.9,320.26 L306.9,320.1 L307.9,319.94 L308.9,319.78 L309.9,319.62 L310.9,319.51 L311.9,319.41 L312.9,319.31 L313.9,319.21 L314.9,319.11 L315.9,319.01 L316.9,318.91 L317.9,318.81 L318.9,318.71 L319.9,318.61 L320.9,318.51 L321.9,318.41 L322.9,318.31 L323.9,318.21 L324.9,318.11 L325.9,318.01 L326.9,317.91 L327.9,317.81 L328.9,317.75 L329.9,317.7 L330.9,317.65 L331.9,317.59 L332.9,317.54 L333.9,317.49 L334.9,317.43 L335.9,317.38 L336.9,317.33 L337.9,317.27 L338.9,317.22 L339.9,317.17 L340.9,317.11 L341.9,317.06 L342.9,317.01 L343.9,317 L344.9,317 L345.9,317 L346.9,317 L347.9,317 L348.9,317 L349.9,317 L350.9,317 L351.9,317 L352.9,317 L353.9,317 L354.9,317 L355.9,317 L356.9,317 L357.9,317 L358.9,317 L359.9,317 L360.9,317 L361.9,317 L362.9,317 L363.9,317 L364.9,317 L365.9,317 L366.9,317 L367.9,317 L368.9,317 L369.9,317 L370.9,317 L371.9,317 L372.9,317 L373.9,317 L374.9,317 L375.9,317 L376.9,317 L377.9,317 L378.9,317 L379.9,317 L380.9,317 L381.9,317 L382.9,317 L383.9,317 L384.9,317 L385.9,317 L386.9,317 L387.9,317 L388.9,317 L389.9,317 L390.9,317 L391.9,317 L392.9,317 L393.9,317 L394.9,317 L395.9,317 L396.9,317 L397.9,317 L398.9,317 L399.9,317 L400.9,317 L401.9,317 L402.9,317 L403.9,317 L404.9,317 L405.9,317 L406.9,317 L407.9,317 L408.9,317 L409.9,317 L410.9,317 L411.9,317 L412.9,317 L413.9,317 L414.9,317 L415.9,317 L416.9,317 L417.9,317 L418.9,317 L419.9,317 L420.9,317 L421.9,317 L422.9,317 L423.9,317 L424.9,317 L425.9,317 L426.9,317 L427.9,317 L428.9,317 L429.9,317 L430.9,317 L431.9,317 L432.9,317 L433.9,317 L434.9,317 L435.9,317 L436.9,317 L437.9,317 L438.9,317 L439.9,317 L440.9,317 L441.9,317 L442.9,317 L443.9,317 L444.9,317 L445.9,317 L446.9,317 L447.9,317 L448.9,317 L449.9,317 L450.9,317 L451.9,317 L452.9,317 L453.9,317 L454.9,317 L455.9,317 L456.9,317 L457.9,317 L458.9,317 L459.9,317 L460.9,317 L461.9,317 L462.9,317 L463.9,317 L464.9,317 L465.9,317 L466.9,317 L467.9,317 L468.9,317 L469.9,317 L470.9,317 L471.9,317 L472.9,317 L473.9,317 L474.9,317 L475.9,317 L476.9,317 L477.9,317 L478.9,317 L479.9,317 L480.9,317 L481.9,317 L482.9,317 L483.9,317 L484.9,317 L485.9,317 L486.9,317 L487.9,317 L488.9,317 L489.9,317 L490.9,317 L491.9,317 L492.9,317 L493.9,317 L494.9,317 L495.9,317 L496.9,317 L497.9,317 L498.9,317 L499.9,317 L500.9,317 L501.9,317 L502.9,317 L503.9,317 L504.9,317 L505.9,317 L506.9,317 L507.9,317 L508.9,317 L509.9,317 L510.9,317 L511.9,317 L512.9,317 L513.9,317 L514.9,317 L515.9,317 L516.9,317 L517.9,317 L518.9,317 L519.9,317 L520.9,317 L521.9,317 L522.9,317 L523.9,317 L524.9,317 L525.9,317 L526.9,317 L527.9,317 L528.9,317 L529.9,317 L530.9,317 L531.9,317 L532.9,317 L533.9,317 L534.9,317 L535.9,317 L536.9,317 L537.9,317 L538.9,317 L539.9,317 L540.9,317 L541.9,317 L542.9,317 L543.9,317 L544.9,317 L545.9,317 L546.9,317 L547.9,317 L548.9,317 L549.9,317 L550.9,317 L551.9,317 L552.9,317 L553.9,317 L554.9,317 L555.9,317 L556.9,317 L557.9,317 L558.9,317 L559.9,317 L560.9,317 L561.9,317 L562.9,317 L563.9,317 L564.9,317 L565.9,317 L566.9,317 L567.9,317 L568.9,317 L569.9,317 L570.9,317 L571.9,317 L572.9,317 L573.9,317 L574.9,317 L575.9,317 L576.9,317 L577.9,317 L578.9,317 L579.9,317 L580.9,317 L581.9,317 L582.9,317 L583.9,317 L584.9,317 L585.9,317 L586.9,317 L587.9,317 L588.9,317 L589.9,317 L590.9,317 L591.9,317 L592.9,317 L593.9,317 L594.9,317 L595.9,317 L596.9,317 L597.9,317 L598.9,317 L599.9,317 L600.9,317 L601.9,317 L602.9,317 L603.9,317 L604.9,317 L605.9,317 L606.9,317 L607.9,317 L608.9,317 L609.9,317 L610.9,317 L611.9,317 L612.9,317 L613.9,317 L614.9,317 L615.9,317 L616.9,317 L617.9,317 L618.9,317 L619.9,317 L620.9,317 L621.9,317 L622.9,317 L623.9,317 L624.9,317 L625.9,317 L626.9,317 L627.9,317 L628.9,317 L629.9,317 L630.9,317 L631.9,317 L632.9,317 L633.9,317 L634.9,317 L635.9,317 L636.9,317 L637.9,317 L638.9,317 L639.9,317 L640.9,317 L641.9,317 L642.9,317 L643.9,317 L644.9,317 L645.9,317 L646.9,317 L647.9,317 L648.9,317 L649.9,317 L650.9,317 L651.9,317 L652.9,317 L653.9,317 L654.9,317 L655.9,317 L656.9,317 L657.9,317 L658.9,317 L659.9,317 L660.9,317 L661.9,317 L662.9,317 L663.9,317 L664.9,317 L665.9,317 L666.9,317 L667.9,317 L668.9,317 L669.9,317 L670.9,317 L671.9,317 L672.9,317 L673.9,317 L674.9,317 L675.9,317 L676.9,317 L677.9,317 L678.9,317 L679.9,317 L680.9,317 L681.9,317 L682.9,317 L683.9,317 L684.9,317 L685.9,317 L686.9,317 L687.9,317 L688.9,317 L689.9,317 L690.9,317 L691.9,317 L692.9,317 L693.9,317 L694.9,317 L695.9,317 L696.9,317 L697.9,317 L698.9,317 L699.9,317 L700.9,317 L701.9,317 L702.9,317 L703.9,317 L704.9,317 L705.9,317 L706.9,317 L707.9,317 L708.9,317 L709.9,317 L710.9,317 L711.9,317 L712.9,317 L713.9,317 L714.9,317 L715.9,317 L716.9,317 L717.9,317 L718,317 L718,404.0 L75,404.0 Z" fill="#b0cfe0"/>
<rect x="79.4" y="393" width="49.5" height="3.4" fill="#a8d2e9"/>
<path d="M142.5,403.5 L143.5,401.76 L144.5,401.68 L145.5,401.6 L146.5,401.51 L147.5,401.43 L148.5,401.35 L149.5,401.27 L150.5,401.19 L151.5,401.1 L152.5,401.02 L153.5,400.94 L154.5,400.86 L155.5,400.78 L156.5,400.7 L157.5,400.61 L158.5,400.53 L159.5,400.45 L160.5,400.37 L161.5,400.29 L162.5,400.2 L163.5,400.12 L164.5,400.04 L165.5,399.99 L166.5,399.96 L167.5,399.93 L168.5,399.9 L169.5,399.87 L170.5,399.84 L171.5,399.81 L172.5,399.78 L173.5,399.75 L174.5,399.72 L175.5,399.69 L176.5,399.66 L177.5,399.63 L178.5,399.6 L179.5,399.57 L180.5,399.54 L181.5,399.51 L182.5,399.49 L183.5,399.46 L184.5,399.43 L185.5,399.4 L186.5,399.37 L187.5,399.34 L188.5,399.31 L189.5,399.28 L190.5,399.25 L191.5,399.22 L192.5,399.19 L193.5,399.16 L194.5,399.13 L195.5,399.1 L196.5,399.07 L197.5,399.04 L198.5,399.01 L199.5,398.99 L200.5,398.96 L201.5,398.93 L202.5,398.9 L203.5,398.87 L204.5,398.84 L205.5,398.81 L206.5,398.78 L207.5,398.75 L208.5,398.72 L209.5,398.69 L210.5,398.66 L211.5,398.63 L212.5,398.6 L213.5,398.57 L214.5,398.54 L215.5,398.51 L216.5,398.49 L217.5,398.46 L218.5,398.43 L219.5,398.4 L220.5,398.37 L221.5,398.34 L222.5,398.31 L223.5,398.28 L224.5,398.25 L225.5,398.22 L226.5,398.19 L227.5,398.16 L228.5,398.13 L229.5,398.1 L230.5,398.07 L231.5,398.04 L232.5,398.01 L233.5,397.99 L234.5,397.96 L235.5,397.93 L236.5,397.9 L237.5,397.87 L238.5,397.84 L239.5,397.81 L240.5,397.78 L241.5,397.75 L242.5,397.72 L243.5,397.69 L244.5,397.66 L245.5,397.63 L246.5,397.6 L247.5,397.57 L248.5,397.54 L249.5,397.51 L250.5,397.5 L251.5,397.5 L252.5,397.5 L253.5,397.5 L254.5,397.5 L255.5,397.49 L256.5,397.49 L257.5,397.49 L258.5,397.49 L259.5,397.49 L260.5,397.49 L261.5,397.49 L262.5,397.49 L263.5,397.49 L264.5,397.48 L265.5,397.48 L266.5,397.48 L267.5,397.48 L268.5,397.48 L269.5,397.48 L270.5,397.48 L271.5,397.48 L272.5,397.48 L273.5,397.47 L274.5,397.47 L275.5,397.47 L276.5,397.47 L277.5,397.47 L278.5,397.47 L279.5,397.47 L280.5,397.47 L281.5,397.47 L282.5,397.47 L283.5,397.46 L284.5,397.46 L285.5,397.46 L286.5,397.46 L287.5,397.46 L288.5,397.46 L289.5,397.46 L290.5,397.46 L291.5,397.46 L292.5,397.45 L293.5,397.45 L294.5,397.45 L295.5,397.45 L296.5,397.45 L297.5,397.45 L298.5,397.45 L299.5,397.45 L300.5,397.45 L301.5,397.44 L302.5,397.44 L303.5,397.44 L304.5,397.44 L305.5,397.44 L306.5,397.44 L307.5,397.44 L308.5,397.44 L309.5,397.44 L310.5,397.44 L311.5,397.43 L312.5,397.43 L313.5,397.43 L314.5,397.43 L315.5,397.43 L316.5,397.43 L317.5,397.43 L318.5,397.43 L319.5,397.43 L320.5,397.42 L321.5,397.42 L322.5,397.42 L323.5,397.42 L324.5,397.42 L325.5,397.42 L326.5,397.42 L327.5,397.42 L328.5,397.42 L329.5,397.42 L330.5,397.41 L331.5,397.41 L332.5,397.41 L333.5,397.41 L334.5,397.41 L335.5,397.41 L336.5,397.41 L337.5,397.41 L338.5,397.41 L339.5,397.4 L340.5,397.4 L341.5,397.4 L342.5,397.4 L343.5,397.4 L344.5,397.4 L345.5,397.4 L346.5,397.4 L347.5,397.4 L348.5,397.39 L349.5,397.39 L350.5,397.39 L351.5,397.39 L352.5,397.39 L353.5,397.39 L354.5,397.39 L355.5,397.39 L356.5,397.39 L357.5,397.39 L358.5,397.38 L359.5,397.38 L360.5,397.38 L361.5,397.38 L362.5,397.38 L363.5,397.38 L364.5,397.38 L365.5,397.38 L366.5,397.38 L367.5,397.37 L368.5,397.37 L369.5,397.37 L370.5,397.37 L371.5,397.37 L372.5,397.37 L373.5,397.37 L374.5,397.37 L375.5,397.37 L376.5,397.36 L377.5,397.36 L378.5,397.36 L379.5,397.36 L380.5,397.36 L381.5,397.36 L382.5,397.36 L383.5,397.36 L384.5,397.36 L385.5,397.36 L386.5,397.35 L387.5,397.35 L388.5,397.35 L389.5,397.35 L390.5,397.35 L391.5,397.35 L392.5,397.35 L393.5,397.35 L394.5,397.35 L395.5,397.34 L396.5,397.34 L397.5,397.34 L398.5,397.34 L399.5,397.34 L400.5,397.34 L401.5,397.34 L402.5,397.34 L403.5,397.34 L404.5,397.33 L405.5,397.33 L406.5,397.33 L407.5,397.33 L408.5,397.33 L409.5,397.33 L410.5,397.33 L411.5,397.33 L412.5,397.33 L413.5,397.33 L414.5,397.32 L415.5,397.32 L416.5,397.32 L417.5,397.32 L418.5,397.32 L419.5,397.32 L420.5,397.32 L421.5,397.32 L422.5,397.32 L423.5,397.31 L424.5,397.31 L425.5,397.31 L426.5,397.31 L427.5,397.31 L428.5,397.31 L429.5,397.31 L430.5,397.31 L431.5,397.31 L432.5,397.31 L433.5,397.3 L434.5,397.3 L435.5,397.3 L436.5,397.3 L437.5,397.3 L438.5,397.3 L439.5,397.3 L440.5,397.3 L441.5,397.3 L442.5,397.29 L443.5,397.29 L444.5,397.29 L445.5,397.29 L446.5,397.29 L447.5,397.29 L448.5,397.29 L449.5,397.29 L450.5,397.29 L451.5,397.28 L452.5,397.28 L453.5,397.28 L454.5,397.28 L455.5,397.28 L456.5,397.28 L457.5,397.28 L458.5,397.28 L459.5,397.28 L460.5,397.28 L461.5,397.27 L462.5,397.27 L463.5,397.27 L464.5,397.27 L465.5,397.27 L466.5,397.27 L467.5,397.27 L468.5,397.27 L469.5,397.27 L470.5,397.26 L471.5,397.26 L472.5,397.26 L473.5,397.26 L474.5,397.26 L475.5,397.26 L476.5,397.26 L477.5,397.26 L478.5,397.26 L479.5,397.25 L480.5,397.25 L481.5,397.25 L482.5,397.25 L483.5,397.25 L484.5,397.25 L485.5,397.25 L486.5,397.25 L487.5,397.25 L488.5,397.25 L489.5,397.24 L490.5,397.24 L491.5,397.24 L492.5,397.24 L493.5,397.24 L494.5,397.24 L495.5,397.24 L496.5,397.24 L497.5,397.24 L498.5,397.23 L499.5,397.23 L500.5,397.23 L501.5,397.23 L502.5,397.23 L503.5,397.23 L504.5,397.23 L505.5,397.23 L506.5,397.23 L507.5,397.22 L508.5,397.22 L509.5,397.22 L510.5,397.22 L511.5,397.22 L512.5,397.22 L513.5,397.22 L514.5,397.22 L515.5,397.22 L516.5,397.22 L517.5,397.21 L518.5,397.21 L519.5,397.21 L520.5,397.21 L521.5,397.21 L522.5,397.21 L523.5,397.21 L524.5,397.21 L525.5,397.21 L526.5,397.2 L527.5,397.2 L528.5,397.2 L529.5,397.2 L530.5,397.2 L531.5,397.2 L532.5,397.2 L533.5,397.2 L534.5,397.2 L535.5,397.19 L536.5,397.19 L537.5,397.19 L538.5,397.19 L539.5,397.19 L540.5,397.19 L541.5,397.19 L542.5,397.19 L543.5,397.19 L544.5,397.19 L545.5,397.18 L546.5,397.18 L547.5,397.18 L548.5,397.18 L549.5,397.18 L550.5,397.18 L551.5,397.18 L552.5,397.18 L553.5,397.18 L554.5,397.17 L555.5,397.17 L556.5,397.17 L557.5,397.17 L558.5,397.17 L559.5,397.17 L560.5,397.17 L561.5,397.17 L562.5,397.17 L563.5,397.17 L564.5,397.16 L565.5,397.16 L566.5,397.16 L567.5,397.16 L568.5,397.16 L569.5,397.16 L570.5,397.16 L571.5,397.16 L572.5,397.16 L573.5,397.15 L574.5,397.15 L575.5,397.15 L576.5,397.15 L577.5,397.15 L578.5,397.15 L579.5,397.15 L580.5,397.15 L581.5,397.15 L582.5,397.14 L583.5,397.14 L584.5,397.14 L585.5,397.14 L586.5,397.14 L587.5,397.14 L588.5,397.14 L589.5,397.14 L590.5,397.14 L591.5,397.14 L592.5,397.13 L593.5,397.13 L594.5,397.13 L595.5,397.13 L596.5,397.13 L597.5,397.13 L598.5,397.13 L599.5,397.13 L600.5,397.13 L601.5,397.12 L602.5,397.12 L603.5,397.12 L604.5,397.12 L605.5,397.12 L606.5,397.12 L607.5,397.12 L608.5,397.12 L609.5,397.12 L610.5,397.11 L611.5,397.11 L612.5,397.11 L613.5,397.11 L614.5,397.11 L615.5,397.11 L616.5,397.11 L617.5,397.11 L618.5,397.11 L619.5,397.11 L620.5,397.1 L621.5,397.1 L622.5,397.1 L623.5,397.1 L624.5,397.1 L625.5,397.1 L626.5,397.1 L627.5,397.1 L628.5,397.1 L629.5,397.09 L630.5,397.09 L631.5,397.09 L632.5,397.09 L633.5,397.09 L634.5,397.09 L635.5,397.09 L636.5,397.09 L637.5,397.09 L638.5,397.08 L639.5,397.08 L640.5,397.08 L641.5,397.08 L642.5,397.08 L643.5,397.08 L644.5,397.08 L645.5,397.08 L646.5,397.08 L647.5,397.08 L648.5,397.07 L649.5,397.07 L650.5,397.07 L651.5,397.07 L652.5,397.07 L653.5,397.07 L654.5,397.07 L655.5,397.07 L656.5,397.07 L657.5,397.06 L658.5,397.06 L659.5,397.06 L660.5,397.06 L661.5,397.06 L662.5,397.06 L663.5,397.06 L664.5,397.06 L665.5,397.06 L666.5,397.06 L667.5,397.05 L668.5,397.05 L669.5,397.05 L670.5,397.05 L671.5,397.05 L672.5,397.05 L673.5,397.05 L674.5,397.05 L675.5,397.05 L676.5,397.04 L677.5,397.04 L678.5,397.04 L679.5,397.04 L680.5,397.04 L681.5,397.04 L682.5,397.04 L683.5,397.04 L684.5,397.04 L685.5,397.03 L686.5,397.03 L687.5,397.03 L688.5,397.03 L689.5,397.03 L690.5,397.03 L691.5,397.03 L692.5,397.03 L693.5,397.03 L694.5,397.03 L695.5,397.02 L696.5,397.02 L697.5,397.02 L698.5,397.02 L699.5,397.02 L700.5,397.02 L701.5,397.02 L702.5,397.02 L703.5,397.02 L704.5,397.01 L705.5,397.01 L706.5,397.01 L707.5,397.01 L708.5,397.01 L709.5,397.01 L710.5,397.01 L711.5,397.01 L712.5,397.01 L713.5,397 L714.5,397 L715.5,397 L716.5,397 L717.5,397 L718,397 L718,404.0 L142.5,404.0 Z" fill="#96dcc8"/>
<g clip-path="url(#ac)" stroke="#000" stroke-opacity="0.1" stroke-width="1" stroke-dasharray="3 3" fill="none"><line x1="75" y1="94" x2="718" y2="94"/><line x1="75" y1="171.5" x2="718" y2="171.5"/><line x1="75" y1="249" x2="718" y2="249"/><line x1="75" y1="326.5" x2="718" y2="326.5"/><line x1="75" y1="404" x2="718" y2="404"/><line x1="75" y1="94" x2="75" y2="404"/><line x1="128.9" y1="94" x2="128.9" y2="404"/><line x1="264.1" y1="94" x2="264.1" y2="404"/><line x1="398.6" y1="94" x2="398.6" y2="404"/><line x1="533.8" y1="94" x2="533.8" y2="404"/><line x1="718" y1="94" x2="718" y2="404"/></g>
<defs><filter id="bl" x="-20%" y="-20%" width="140%" height="140%"><feGaussianBlur stdDeviation="0.75"/></filter></defs>
<g filter="url(#bl)" fill="none" stroke="#e8785f" opacity="0.36">
<ellipse cx="317" cy="245.6" rx="8.6" ry="9.1" stroke-width="3.9"/>
<path d="M312.6,239.5 L313.2,234.6 A5,5 0 0 1 323.2,234.6 L323.2,235.6" stroke-width="3.3"/>
</g>
<text x="336.3" y="252.4" font-size="22" font-weight="bold" letter-spacing="0.75" fill="#454545" fill-opacity="0.3">Token</text>
<text x="404.6" y="252.4" font-size="22" letter-spacing="1.2" fill="#e85858" fill-opacity="0.36">Unlocks.</text>
<g font-size="11" fill="#4e4e4e" stroke="#4e4e4e" stroke-width="0.2" letter-spacing="0.85"><text x="67.0" y="98" text-anchor="end" letter-spacing="0.45">1b</text><text x="68.0" y="175.5" text-anchor="end" letter-spacing="1.45">750m</text><text x="68.0" y="253" text-anchor="end" letter-spacing="1.45">500m</text><text x="68.0" y="330.5" text-anchor="end" letter-spacing="1.45">250m</text><text x="66.85" y="408" text-anchor="end" letter-spacing="0.3">0</text><text x="129.4" y="420.8" text-anchor="middle" letter-spacing="1.05">27/07/2022</text><text x="264.6" y="420.8" text-anchor="middle" letter-spacing="1.05">27/01/2025</text><text x="399.1" y="420.8" text-anchor="middle" letter-spacing="1.05">27/07/2027</text><text x="534.3" y="420.8" text-anchor="middle" letter-spacing="1.05">27/01/2030</text><text x="672.5" y="420.8" text-anchor="middle" letter-spacing="1.05">27/06/2033</text></g>
<g stroke="#7f7f7f" stroke-width="1"><line x1="69" y1="94" x2="75" y2="94"/><line x1="69" y1="171.5" x2="75" y2="171.5"/><line x1="69" y1="249" x2="75" y2="249"/><line x1="69" y1="326.5" x2="75" y2="326.5"/><line x1="69" y1="404" x2="75" y2="404"/><line x1="128.9" y1="404" x2="128.9" y2="410"/><line x1="264.1" y1="404" x2="264.1" y2="410"/><line x1="398.6" y1="404" x2="398.6" y2="410"/><line x1="533.8" y1="404" x2="533.8" y2="410"/><line x1="718" y1="404" x2="718" y2="410"/></g>
<line x1="142.5" y1="94" x2="142.5" y2="404" stroke="#3c6444" stroke-width="1.05"/>
<text x="142.7" y="88.5" font-size="11" fill="#333" stroke="#333" stroke-width="0.15" text-anchor="middle" letter-spacing="0.75">Today</text>
<text x="397" y="442.8" font-size="11" fill="#4e4e4e" stroke="#4e4e4e" stroke-width="0.2" text-anchor="middle" letter-spacing="1.08">Day/Month/Year</text>
<text transform="translate(24.4,237.3) rotate(-90)" font-size="11" fill="#4e4e4e" stroke="#4e4e4e" stroke-width="0.2" text-anchor="middle" letter-spacing="0.78">Amount (YGG)</text>
</svg>
</body></html>
